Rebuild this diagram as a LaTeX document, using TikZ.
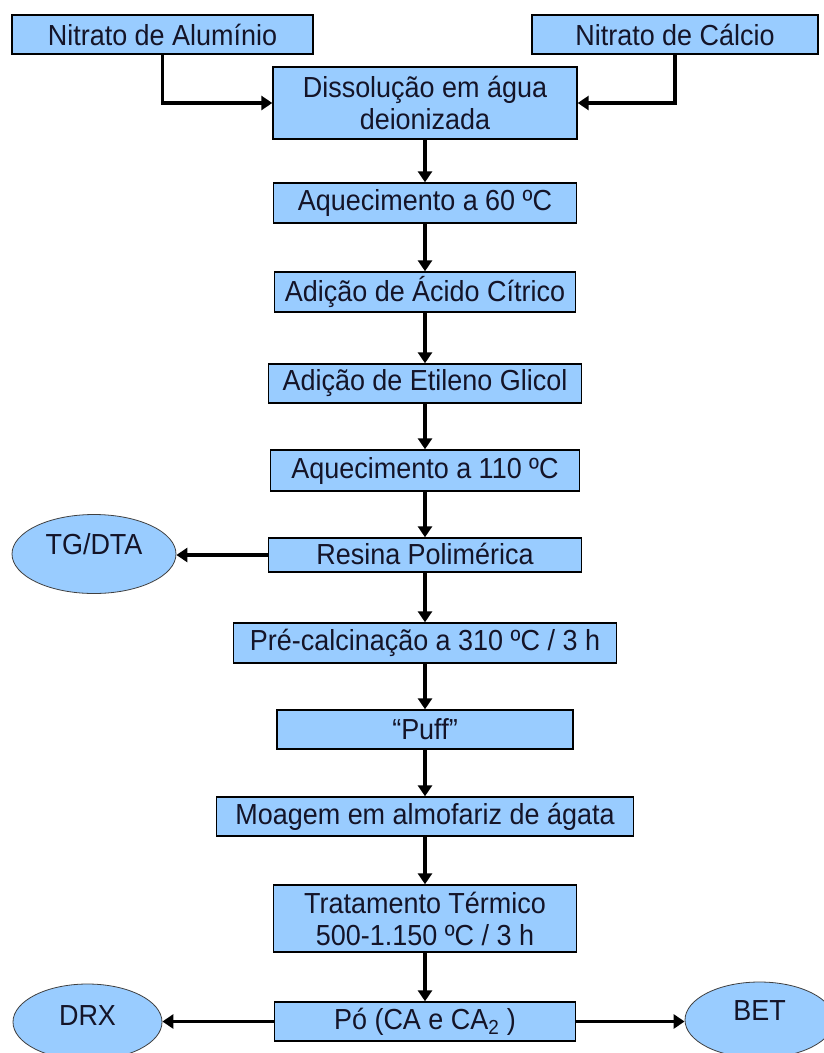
\documentclass[tikz,border=0pt]{standalone}
\usepackage{fontspec}
\setmainfont{Liberation Sans}[FakeStretch=0.93]
\usetikzlibrary{arrows.meta,shapes.geometric}
\definecolor{boxblue}{RGB}{153,204,255}
\definecolor{inktext}{RGB}{20,20,40}
\begin{document}
\begin{tikzpicture}[x=1pt,y=-1pt,
  box/.style={draw=black, line width=1.4pt, fill=boxblue, inner sep=0pt, align=center,
    text=inktext, font=\fontsize{29}{32}\selectfont},
  oval/.style={ellipse, draw=black!75, line width=0.8pt, fill=boxblue, inner sep=0pt,
    text=inktext, font=\fontsize{29}{32}\selectfont},
  arr/.style={line width=3.4pt, -{Triangle[length=11pt,width=14pt]}}]
\useasboundingbox (0,0) rectangle (823,1053);

\node[box, minimum width=301pt, minimum height=39pt] (alu) at (162.5,34.5) {Nitrato de Alumínio};
\node[box, minimum width=286pt, minimum height=39pt] (cal) at (675,34.5) {Nitrato de Cálcio};
\node[box, minimum width=304pt, minimum height=72pt] (dis) at (425,103) {Dissolução em água\\deionizada};
\node[box, minimum width=303pt, minimum height=40pt] (aq60) at (425,203) {Aquecimento a 60 ºC};
\node[box, minimum width=301pt, minimum height=40pt] (acid) at (425,292) {Adição de Ácido Cítrico};
\node[box, minimum width=313pt, minimum height=39pt] (eti) at (425,383.5) {Adição de Etileno Glicol};
\node[box, minimum width=309pt, minimum height=41pt] (aq110) at (425,470.5) {Aquecimento a 110 ºC};
\node[box, minimum width=313pt, minimum height=34pt, text height=21pt, text depth=3pt] (res) at (425,555) {Resina Polimérica};
\node[box, minimum width=383pt, minimum height=40pt] (pre) at (425,643) {Pré-calcinação a 310 ºC / 3 h};
\node[box, minimum width=296pt, minimum height=39pt] (puff) at (425,729.5) {“Puff”};
\node[box, minimum width=417pt, minimum height=39pt] (moa) at (425,816.5) {Moagem em almofariz de ágata};
\node[box, minimum width=303pt, minimum height=67pt] (tra) at (425,918.5) {Tratamento Térmico\\500-1.150 ºC / 3 h};
\node[box, minimum width=301pt, minimum height=39pt] (po) at (425,1021.5) {Pó (CA e CA\textsubscript{2} )};

\node[oval, minimum width=164pt, minimum height=79pt, text height=21pt, text depth=21pt] (tg) at (94,554) {TG/DTA};
\node[oval, minimum width=149pt, minimum height=76pt, text height=21pt, text depth=15pt] (drx) at (87.5,1022) {DRX};
\node[oval, minimum width=149pt, minimum height=76pt, text height=21pt, text depth=21pt] (bet) at (759.5,1020) {BET};

\draw[arr] (alu.south) |- (dis.west);
\draw[arr] (cal.south) |- (dis.east);
\draw[arr] (dis) -- (aq60);
\draw[arr] (aq60) -- (acid);
\draw[arr] (acid) -- (eti);
\draw[arr] (eti) -- (aq110);
\draw[arr] (aq110) -- (res);
\draw[arr] (res.west) -- (res.west -| tg.east);
\draw[arr] (res) -- (pre);
\draw[arr] (pre) -- (puff);
\draw[arr] (puff) -- (moa);
\draw[arr] (moa) -- (tra);
\draw[arr] (tra) -- (po);
\draw[arr] (po.west) -- (po.west -| drx.east);
\draw[arr] (po.east) -- (po.east -| bet.west);
\end{tikzpicture}
\end{document}
